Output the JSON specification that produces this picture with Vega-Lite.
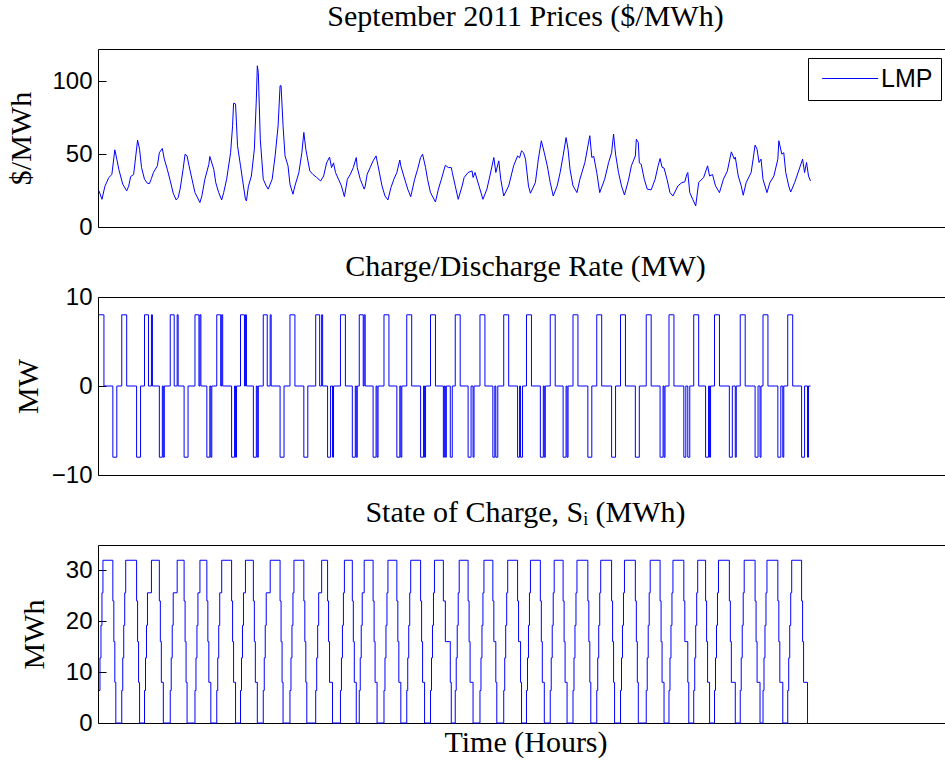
{
"$schema": "https://vega.github.io/schema/vega-lite/v6.json",
"padding": {"left": 5, "top": 1, "right": -8, "bottom": 0},
"bounds": "flush",
"spacing": 70,
"config": {
 "view": {"stroke": "#000", "strokeWidth": 1},
 "font": "Liberation Sans",
 "axis": {"domain": false, "grid": false, "ticks": true, "tickColor": "#000", "tickSize": -8, "tickWidth": 1, "labelFont": "Liberation Sans", "labelFontSize": 24, "labelColor": "#000", "labelPadding": 14, "labelFlush": false, "labelOverlap": false, "titleFont": "Liberation Serif", "titleFontSize": 30, "titleFontWeight": "normal", "titleColor": "#000"},
 "title": {"font": "Liberation Serif", "fontSize": 30, "fontWeight": "normal", "color": "#000", "offset": 17, "baseline": "alphabetic", "frame": "group"},
 "line": {"color": "#0000ff", "strokeWidth": 1}
},
"datasets": {
 "lmp": [{"t":1,"v":24.8},{"t":4,"v":19},{"t":7,"v":28},{"t":11,"v":34},{"t":14,"v":36},{"t":17,"v":53},{"t":19,"v":46.6},{"t":21,"v":39.7},{"t":25,"v":29.4},{"t":29,"v":24.8},{"t":31,"v":28},{"t":33,"v":34.6},{"t":36,"v":36},{"t":40,"v":59.6},{"t":42,"v":53.4},{"t":44,"v":40.8},{"t":47,"v":32.8},{"t":50,"v":30},{"t":52,"v":29.8},{"t":54,"v":33.3},{"t":56,"v":37.4},{"t":60,"v":42},{"t":62,"v":51},{"t":65,"v":53.9},{"t":67,"v":46.6},{"t":70,"v":39.7},{"t":73,"v":31.7},{"t":76,"v":23.2},{"t":79,"v":18.6},{"t":81,"v":20.2},{"t":83,"v":26},{"t":86,"v":39.7},{"t":88,"v":50},{"t":90,"v":48.8},{"t":92,"v":42},{"t":95,"v":32.8},{"t":98,"v":23.6},{"t":103,"v":16.8},{"t":105,"v":21.4},{"t":108,"v":32.8},{"t":112,"v":43},{"t":113,"v":48.4},{"t":117,"v":39.7},{"t":119,"v":30.5},{"t":122,"v":23.6},{"t":125,"v":18.6},{"t":127,"v":23.6},{"t":130,"v":32.8},{"t":134,"v":51},{"t":136,"v":69.5},{"t":137,"v":85},{"t":139,"v":84.4},{"t":141,"v":55.8},{"t":144,"v":42},{"t":146,"v":32.8},{"t":149,"v":19},{"t":150,"v":17.9},{"t":152,"v":28},{"t":155,"v":35},{"t":158,"v":53.4},{"t":160,"v":87.8},{"t":161,"v":110.7},{"t":162,"v":106},{"t":164,"v":60.3},{"t":167,"v":32.8},{"t":170,"v":28.2},{"t":172,"v":26},{"t":176,"v":32.8},{"t":179,"v":48.8},{"t":182,"v":69.5},{"t":184,"v":97},{"t":185,"v":97},{"t":187,"v":69.5},{"t":189,"v":48.8},{"t":192,"v":42},{"t":194,"v":29.4},{"t":197,"v":22.5},{"t":199,"v":28.2},{"t":203,"v":37.4},{"t":206,"v":51},{"t":208,"v":64.9},{"t":210,"v":53.4},{"t":214,"v":38.5},{"t":217,"v":36.2},{"t":221,"v":34},{"t":225,"v":31.6},{"t":228,"v":35},{"t":231,"v":44},{"t":234,"v":48},{"t":236,"v":40.8},{"t":238,"v":44},{"t":240,"v":37.4},{"t":243,"v":32.8},{"t":246,"v":28.2},{"t":249,"v":20.8},{"t":252,"v":32.8},{"t":255,"v":36.2},{"t":258,"v":40.8},{"t":261,"v":47.7},{"t":262,"v":40.8},{"t":265,"v":32.8},{"t":269,"v":26},{"t":270,"v":28},{"t":272,"v":36.2},{"t":275,"v":40.8},{"t":278,"v":45.4},{"t":281,"v":48.8},{"t":283,"v":42},{"t":287,"v":28.2},{"t":290,"v":21.3},{"t":293,"v":18.6},{"t":296,"v":27},{"t":299,"v":32.8},{"t":302,"v":37.4},{"t":305,"v":46},{"t":306,"v":42},{"t":309,"v":35},{"t":313,"v":26},{"t":316,"v":20.8},{"t":320,"v":32.8},{"t":323,"v":39.7},{"t":326,"v":47.7},{"t":328,"v":50},{"t":331,"v":40.8},{"t":333,"v":32.8},{"t":336,"v":23.6},{"t":341,"v":17.2},{"t":344,"v":26},{"t":347,"v":32.8},{"t":351,"v":42.4},{"t":354,"v":40.8},{"t":357,"v":40.8},{"t":358,"v":37.4},{"t":361,"v":28.2},{"t":364,"v":19},{"t":368,"v":28.2},{"t":370,"v":34},{"t":374,"v":37.4},{"t":378,"v":38.5},{"t":379,"v":34},{"t":381,"v":37.4},{"t":385,"v":28.2},{"t":389,"v":19},{"t":393,"v":26},{"t":396,"v":35},{"t":400,"v":47.7},{"t":402,"v":37.4},{"t":405,"v":45.4},{"t":407,"v":32.8},{"t":410,"v":21.3},{"t":415,"v":28.2},{"t":420,"v":42},{"t":424,"v":48.8},{"t":426,"v":47.5},{"t":428,"v":52.3},{"t":430,"v":51},{"t":432,"v":46.6},{"t":435,"v":28.2},{"t":437,"v":23.2},{"t":442,"v":30.5},{"t":445,"v":46.6},{"t":448,"v":59.2},{"t":451,"v":51},{"t":454,"v":42},{"t":457,"v":30.5},{"t":460,"v":21.3},{"t":464,"v":28.2},{"t":467,"v":37.4},{"t":470,"v":48.8},{"t":473,"v":61.4},{"t":475,"v":53.4},{"t":477,"v":39.7},{"t":480,"v":28.2},{"t":484,"v":23.6},{"t":487,"v":32.8},{"t":492,"v":44.3},{"t":497,"v":62.7},{"t":499,"v":47.7},{"t":501,"v":48.5},{"t":504,"v":37.4},{"t":507,"v":23.6},{"t":512,"v":32.8},{"t":516,"v":44.3},{"t":519,"v":51},{"t":521,"v":63.8},{"t":523,"v":50},{"t":526,"v":37.4},{"t":529,"v":28.2},{"t":532,"v":22},{"t":536,"v":32},{"t":539,"v":42},{"t":543,"v":48.8},{"t":544,"v":60.3},{"t":546,"v":58},{"t":547,"v":44},{"t":549,"v":43},{"t":552,"v":32.8},{"t":555,"v":26},{"t":559,"v":25.5},{"t":563,"v":32.8},{"t":566,"v":42},{"t":568,"v":47},{"t":570,"v":41},{"t":572,"v":40.5},{"t":575,"v":32.8},{"t":578,"v":23.6},{"t":581,"v":21.3},{"t":586,"v":28.2},{"t":590,"v":30.5},{"t":593,"v":31},{"t":595,"v":36.2},{"t":596,"v":37.4},{"t":598,"v":23.6},{"t":601,"v":19},{"t":604,"v":14.5},{"t":607,"v":30.5},{"t":612,"v":34},{"t":616,"v":42},{"t":618,"v":35},{"t":621,"v":36},{"t":624,"v":28.2},{"t":628,"v":23.6},{"t":632,"v":32.8},{"t":636,"v":38.5},{"t":640,"v":51.6},{"t":643,"v":46.6},{"t":644,"v":48},{"t":647,"v":35},{"t":650,"v":28.2},{"t":652,"v":21.8},{"t":655,"v":30.5},{"t":660,"v":37.4},{"t":662,"v":46.6},{"t":664,"v":56.2},{"t":666,"v":53.4},{"t":668,"v":44.3},{"t":670,"v":46.6},{"t":672,"v":32.8},{"t":676,"v":23.6},{"t":679,"v":30.5},{"t":683,"v":35},{"t":687,"v":46.6},{"t":688,"v":59.2},{"t":691,"v":50},{"t":693,"v":51},{"t":695,"v":37.4},{"t":698,"v":28.2},{"t":700,"v":24},{"t":704,"v":30.5},{"t":708,"v":38.5},{"t":712,"v":46.6},{"t":714,"v":37.4},{"t":716,"v":44.3},{"t":718,"v":35},{"t":720,"v":31.6}],
 "rate": [{"t":1,"r":8},{"t":6,"r":0},{"t":15,"r":-8},{"t":19,"r":0},
  {"t":24,"r":8},{"t":29,"r":0},{"t":39,"r":-8},{"t":43,"r":0},
  {"t":47,"r":8},{"t":51,"r":0},{"t":54,"r":8},{"t":55,"r":0},{"t":62,"r":-8},{"t":65,"r":0},{"t":66,"r":-8},{"t":67,"r":0},
  {"t":73,"r":8},{"t":77,"r":0},{"t":80,"r":8},{"t":81,"r":0},{"t":87,"r":-8},{"t":91,"r":0},
  {"t":98,"r":8},{"t":102,"r":0},{"t":103,"r":8},{"t":104,"r":0},{"t":110,"r":-8},{"t":113,"r":0},{"t":114,"r":-8},{"t":115,"r":0},
  {"t":120,"r":8},{"t":124,"r":0},{"t":125,"r":8},{"t":126,"r":0},{"t":135,"r":-8},{"t":138,"r":0},{"t":139,"r":-8},{"t":140,"r":0},
  {"t":144,"r":8},{"t":148,"r":0},{"t":149,"r":8},{"t":150,"r":0},{"t":157,"r":-8},{"t":160,"r":0},{"t":161,"r":-8},{"t":162,"r":0},
  {"t":167,"r":8},{"t":171,"r":0},{"t":174,"r":8},{"t":175,"r":0},{"t":184,"r":-8},{"t":188,"r":0},
  {"t":194,"r":8},{"t":199,"r":0},{"t":208,"r":-8},{"t":212,"r":0},
  {"t":220,"r":8},{"t":224,"r":0},{"t":226,"r":8},{"t":227,"r":0},{"t":232,"r":-8},{"t":235,"r":0},{"t":237,"r":-8},{"t":238,"r":0},
  {"t":245,"r":8},{"t":250,"r":0},{"t":257,"r":-8},{"t":260,"r":0},{"t":261,"r":-8},{"t":262,"r":0},
  {"t":264,"r":8},{"t":268,"r":0},{"t":269,"r":8},{"t":270,"r":0},{"t":278,"r":-8},{"t":281,"r":0},{"t":282,"r":-8},{"t":283,"r":0},
  {"t":289,"r":8},{"t":294,"r":0},{"t":302,"r":-8},{"t":305,"r":0},{"t":306,"r":-8},{"t":307,"r":0},
  {"t":312,"r":8},{"t":317,"r":0},{"t":326,"r":-8},{"t":329,"r":0},{"t":330,"r":-8},{"t":331,"r":0},
  {"t":336,"r":8},{"t":341,"r":0},{"t":349,"r":-8},{"t":350,"r":0},{"t":351,"r":-8},{"t":352,"r":0},{"t":356,"r":-8},{"t":358,"r":0},
  {"t":361,"r":8},{"t":366,"r":0},{"t":374,"r":-8},{"t":377,"r":0},{"t":379,"r":-8},{"t":380,"r":0},
  {"t":386,"r":8},{"t":391,"r":0},{"t":399,"r":-8},{"t":401,"r":0},{"t":402,"r":-8},{"t":404,"r":0},
  {"t":410,"r":8},{"t":415,"r":0},{"t":424,"r":-8},{"t":426,"r":0},{"t":427,"r":-8},{"t":429,"r":0},
  {"t":433,"r":8},{"t":438,"r":0},{"t":447,"r":-8},{"t":450,"r":0},{"t":451,"r":-8},{"t":452,"r":0},
  {"t":457,"r":8},{"t":462,"r":0},{"t":470,"r":-8},{"t":473,"r":0},{"t":474,"r":-8},{"t":475,"r":0},
  {"t":480,"r":8},{"t":485,"r":0},{"t":495,"r":-8},{"t":499,"r":0},
  {"t":504,"r":8},{"t":509,"r":0},{"t":519,"r":-8},{"t":523,"r":0},
  {"t":528,"r":8},{"t":533,"r":0},{"t":543,"r":-8},{"t":547,"r":0},
  {"t":554,"r":8},{"t":559,"r":0},{"t":568,"r":-8},{"t":571,"r":0},{"t":572,"r":-8},{"t":573,"r":0},
  {"t":577,"r":8},{"t":582,"r":0},{"t":592,"r":-8},{"t":594,"r":0},{"t":596,"r":-8},{"t":598,"r":0},
  {"t":602,"r":8},{"t":607,"r":0},{"t":614,"r":-8},{"t":617,"r":0},{"t":618,"r":-8},{"t":619,"r":0},
  {"t":623,"r":8},{"t":628,"r":0},{"t":638,"r":-8},{"t":641,"r":0},{"t":644,"r":-8},{"t":645,"r":0},
  {"t":649,"r":8},{"t":654,"r":0},{"t":664,"r":-8},{"t":667,"r":0},{"t":669,"r":-8},{"t":670,"r":0},
  {"t":672,"r":8},{"t":677,"r":0},{"t":687,"r":-8},{"t":690,"r":0},{"t":692,"r":-8},{"t":693,"r":0},
  {"t":697,"r":8},{"t":702,"r":0},{"t":711,"r":-8},{"t":714,"r":0},{"t":717,"r":-8},{"t":718,"r":0},{"t":720,"r":0}],
 "soc": [{"t":1,"s":6.4},{"t":2,"s":12.8},{"t":3,"s":19.2},{"t":4,"s":25.6},{"t":5,"s":32},{"t":15,"s":24},{"t":16,"s":16},{"t":17,"s":8},{"t":18,"s":0},
  {"t":24,"s":6.4},{"t":25,"s":12.8},{"t":26,"s":19.2},{"t":27,"s":25.6},{"t":28,"s":32},{"t":39,"s":24},{"t":40,"s":16},{"t":41,"s":8},{"t":42,"s":0},
  {"t":47,"s":6.4},{"t":48,"s":12.8},{"t":49,"s":19.2},{"t":50,"s":25.6},{"t":54,"s":32},{"t":62,"s":24},{"t":63,"s":16},{"t":64,"s":8},{"t":66,"s":0},
  {"t":73,"s":6.4},{"t":74,"s":12.8},{"t":75,"s":19.2},{"t":76,"s":25.6},{"t":80,"s":32},{"t":87,"s":24},{"t":88,"s":16},{"t":89,"s":8},{"t":90,"s":0},
  {"t":98,"s":6.4},{"t":99,"s":12.8},{"t":100,"s":19.2},{"t":101,"s":25.6},{"t":103,"s":32},{"t":110,"s":24},{"t":111,"s":16},{"t":112,"s":8},{"t":114,"s":0},
  {"t":120,"s":6.4},{"t":121,"s":12.8},{"t":122,"s":19.2},{"t":123,"s":25.6},{"t":125,"s":32},{"t":135,"s":24},{"t":136,"s":16},{"t":137,"s":8},{"t":139,"s":0},
  {"t":144,"s":6.4},{"t":145,"s":12.8},{"t":146,"s":19.2},{"t":147,"s":25.6},{"t":149,"s":32},{"t":157,"s":24},{"t":158,"s":16},{"t":159,"s":8},{"t":161,"s":0},
  {"t":167,"s":6.4},{"t":168,"s":12.8},{"t":169,"s":19.2},{"t":170,"s":25.6},{"t":174,"s":32},{"t":184,"s":24},{"t":185,"s":16},{"t":186,"s":8},{"t":187,"s":0},
  {"t":194,"s":6.4},{"t":195,"s":12.8},{"t":196,"s":19.2},{"t":197,"s":25.6},{"t":198,"s":32},{"t":208,"s":24},{"t":209,"s":16},{"t":210,"s":8},{"t":211,"s":0},
  {"t":220,"s":6.4},{"t":221,"s":12.8},{"t":222,"s":19.2},{"t":223,"s":25.6},{"t":226,"s":32},{"t":232,"s":24},{"t":233,"s":16},{"t":234,"s":8},{"t":237,"s":0},
  {"t":245,"s":6.4},{"t":246,"s":12.8},{"t":247,"s":19.2},{"t":248,"s":25.6},{"t":249,"s":32},{"t":257,"s":24},{"t":258,"s":16},{"t":259,"s":8},{"t":261,"s":0},
  {"t":264,"s":6.4},{"t":265,"s":12.8},{"t":266,"s":19.2},{"t":267,"s":25.6},{"t":269,"s":32},{"t":278,"s":24},{"t":279,"s":16},{"t":280,"s":8},{"t":282,"s":0},
  {"t":289,"s":6.4},{"t":290,"s":12.8},{"t":291,"s":19.2},{"t":292,"s":25.6},{"t":293,"s":32},{"t":302,"s":24},{"t":303,"s":16},{"t":304,"s":8},{"t":306,"s":0},
  {"t":312,"s":6.4},{"t":313,"s":12.8},{"t":314,"s":19.2},{"t":315,"s":25.6},{"t":316,"s":32},{"t":326,"s":24},{"t":327,"s":16},{"t":328,"s":8},{"t":330,"s":0},
  {"t":336,"s":6.4},{"t":337,"s":12.8},{"t":338,"s":19.2},{"t":339,"s":25.6},{"t":340,"s":32},{"t":349,"s":24},{"t":351,"s":16},{"t":356,"s":8},{"t":357,"s":0},
  {"t":361,"s":6.4},{"t":362,"s":12.8},{"t":363,"s":19.2},{"t":364,"s":25.6},{"t":365,"s":32},{"t":374,"s":24},{"t":375,"s":16},{"t":376,"s":8},{"t":379,"s":0},
  {"t":386,"s":6.4},{"t":387,"s":12.8},{"t":388,"s":19.2},{"t":389,"s":25.6},{"t":390,"s":32},{"t":399,"s":24},{"t":400,"s":16},{"t":402,"s":8},{"t":403,"s":0},
  {"t":410,"s":6.4},{"t":411,"s":12.8},{"t":412,"s":19.2},{"t":413,"s":25.6},{"t":414,"s":32},{"t":424,"s":24},{"t":425,"s":16},{"t":427,"s":8},{"t":428,"s":0},
  {"t":433,"s":6.4},{"t":434,"s":12.8},{"t":435,"s":19.2},{"t":436,"s":25.6},{"t":437,"s":32},{"t":447,"s":24},{"t":448,"s":16},{"t":449,"s":8},{"t":451,"s":0},
  {"t":457,"s":6.4},{"t":458,"s":12.8},{"t":459,"s":19.2},{"t":460,"s":25.6},{"t":461,"s":32},{"t":470,"s":24},{"t":471,"s":16},{"t":472,"s":8},{"t":474,"s":0},
  {"t":480,"s":6.4},{"t":481,"s":12.8},{"t":482,"s":19.2},{"t":483,"s":25.6},{"t":484,"s":32},{"t":495,"s":24},{"t":496,"s":16},{"t":497,"s":8},{"t":498,"s":0},
  {"t":504,"s":6.4},{"t":505,"s":12.8},{"t":506,"s":19.2},{"t":507,"s":25.6},{"t":508,"s":32},{"t":519,"s":24},{"t":520,"s":16},{"t":521,"s":8},{"t":522,"s":0},
  {"t":528,"s":6.4},{"t":529,"s":12.8},{"t":530,"s":19.2},{"t":531,"s":25.6},{"t":532,"s":32},{"t":543,"s":24},{"t":544,"s":16},{"t":545,"s":8},{"t":546,"s":0},
  {"t":554,"s":6.4},{"t":555,"s":12.8},{"t":556,"s":19.2},{"t":557,"s":25.6},{"t":558,"s":32},{"t":568,"s":24},{"t":569,"s":16},{"t":570,"s":8},{"t":572,"s":0},
  {"t":577,"s":6.4},{"t":578,"s":12.8},{"t":579,"s":19.2},{"t":580,"s":25.6},{"t":581,"s":32},{"t":592,"s":24},{"t":593,"s":16},{"t":596,"s":8},{"t":597,"s":0},
  {"t":602,"s":6.4},{"t":603,"s":12.8},{"t":604,"s":19.2},{"t":605,"s":25.6},{"t":606,"s":32},{"t":614,"s":24},{"t":615,"s":16},{"t":616,"s":8},{"t":618,"s":0},
  {"t":623,"s":6.4},{"t":624,"s":12.8},{"t":625,"s":19.2},{"t":626,"s":25.6},{"t":627,"s":32},{"t":638,"s":24},{"t":639,"s":16},{"t":640,"s":8},{"t":644,"s":0},
  {"t":649,"s":6.4},{"t":650,"s":12.8},{"t":651,"s":19.2},{"t":652,"s":25.6},{"t":653,"s":32},{"t":664,"s":24},{"t":665,"s":16},{"t":666,"s":8},{"t":669,"s":0},
  {"t":672,"s":6.4},{"t":673,"s":12.8},{"t":674,"s":19.2},{"t":675,"s":25.6},{"t":676,"s":32},{"t":687,"s":24},{"t":688,"s":16},{"t":689,"s":8},{"t":692,"s":0},
  {"t":697,"s":6.4},{"t":698,"s":12.8},{"t":699,"s":19.2},{"t":700,"s":25.6},{"t":701,"s":32},{"t":711,"s":24},{"t":712,"s":16},{"t":713,"s":8},{"t":717,"s":0}]
},
"vconcat": [
 {
  "title": {"text": "September 2011 Prices ($/MWh)"},
  "width": 855, "height": 178,
  "data": {"name": "lmp"},
  "mark": {"type": "line", "interpolate": "linear", "strokeWidth": 1},
  "encoding": {
   "x": {"field": "t", "type": "quantitative", "scale": {"domain": [0, 864], "nice": false, "zero": false}, "axis": null},
   "y": {"field": "v", "type": "quantitative", "scale": {"domain": [0, 122.2], "nice": false}, "axis": {"values": [0, 50, 100], "title": "$/MWh", "titleX": -68, "titleY": 89, "titleAngle": 270, "titleBaseline": "alphabetic"}},
   "color": {"datum": "LMP", "type": "nominal", "scale": {"range": ["#0000ff"]}, "legend": {"orient": "none", "legendX": 710, "legendY": 9, "title": null, "strokeColor": "#000", "fillColor": "#fff", "padding": 8, "symbolType": "M-1,0H5", "symbolSize": 348, "symbolStrokeWidth": 1, "symbolStrokeColor": "#0000ff", "symbolOffset": 3, "labelFont": "Liberation Sans", "labelFontSize": 25, "labelOffset": 37, "labelColor": "#000"}}
  }
 },
 {
  "title": {"text": "Charge/Discharge Rate (MW)", "offset": 3},
  "width": 855, "height": 178,
  "data": {"name": "rate"},
  "mark": {"type": "line", "interpolate": "step-after", "color": "#0000ff", "strokeWidth": 1},
  "encoding": {
   "x": {"field": "t", "type": "quantitative", "scale": {"domain": [0, 864], "nice": false, "zero": false}, "axis": null},
   "y": {"field": "r", "type": "quantitative", "scale": {"domain": [-10, 10], "nice": false}, "axis": {"values": [-10, 0, 10], "title": "MW", "titleX": -61, "titleY": 89, "titleAngle": 270, "titleBaseline": "alphabetic"}}
  }
 },
 {
  "title": {"text": "State of Charge, Sᵢ (MWh)"},
  "width": 855, "height": 178,
  "data": {"name": "soc"},
  "mark": {"type": "line", "interpolate": "step-after", "color": "#0000ff", "strokeWidth": 1},
  "encoding": {
   "x": {"field": "t", "type": "quantitative", "scale": {"domain": [0, 864], "nice": false, "zero": false}, "axis": {"title": "Time (Hours)", "labels": false, "ticks": false, "domain": false, "titlePadding": 28, "titleBaseline": "alphabetic"}},
   "y": {"field": "s", "type": "quantitative", "scale": {"domain": [0, 35], "nice": false}, "axis": {"values": [0, 10, 20, 30], "title": "MWh", "titleX": -55, "titleY": 89, "titleAngle": 270, "titleBaseline": "alphabetic"}}
  }
 }
]
}
